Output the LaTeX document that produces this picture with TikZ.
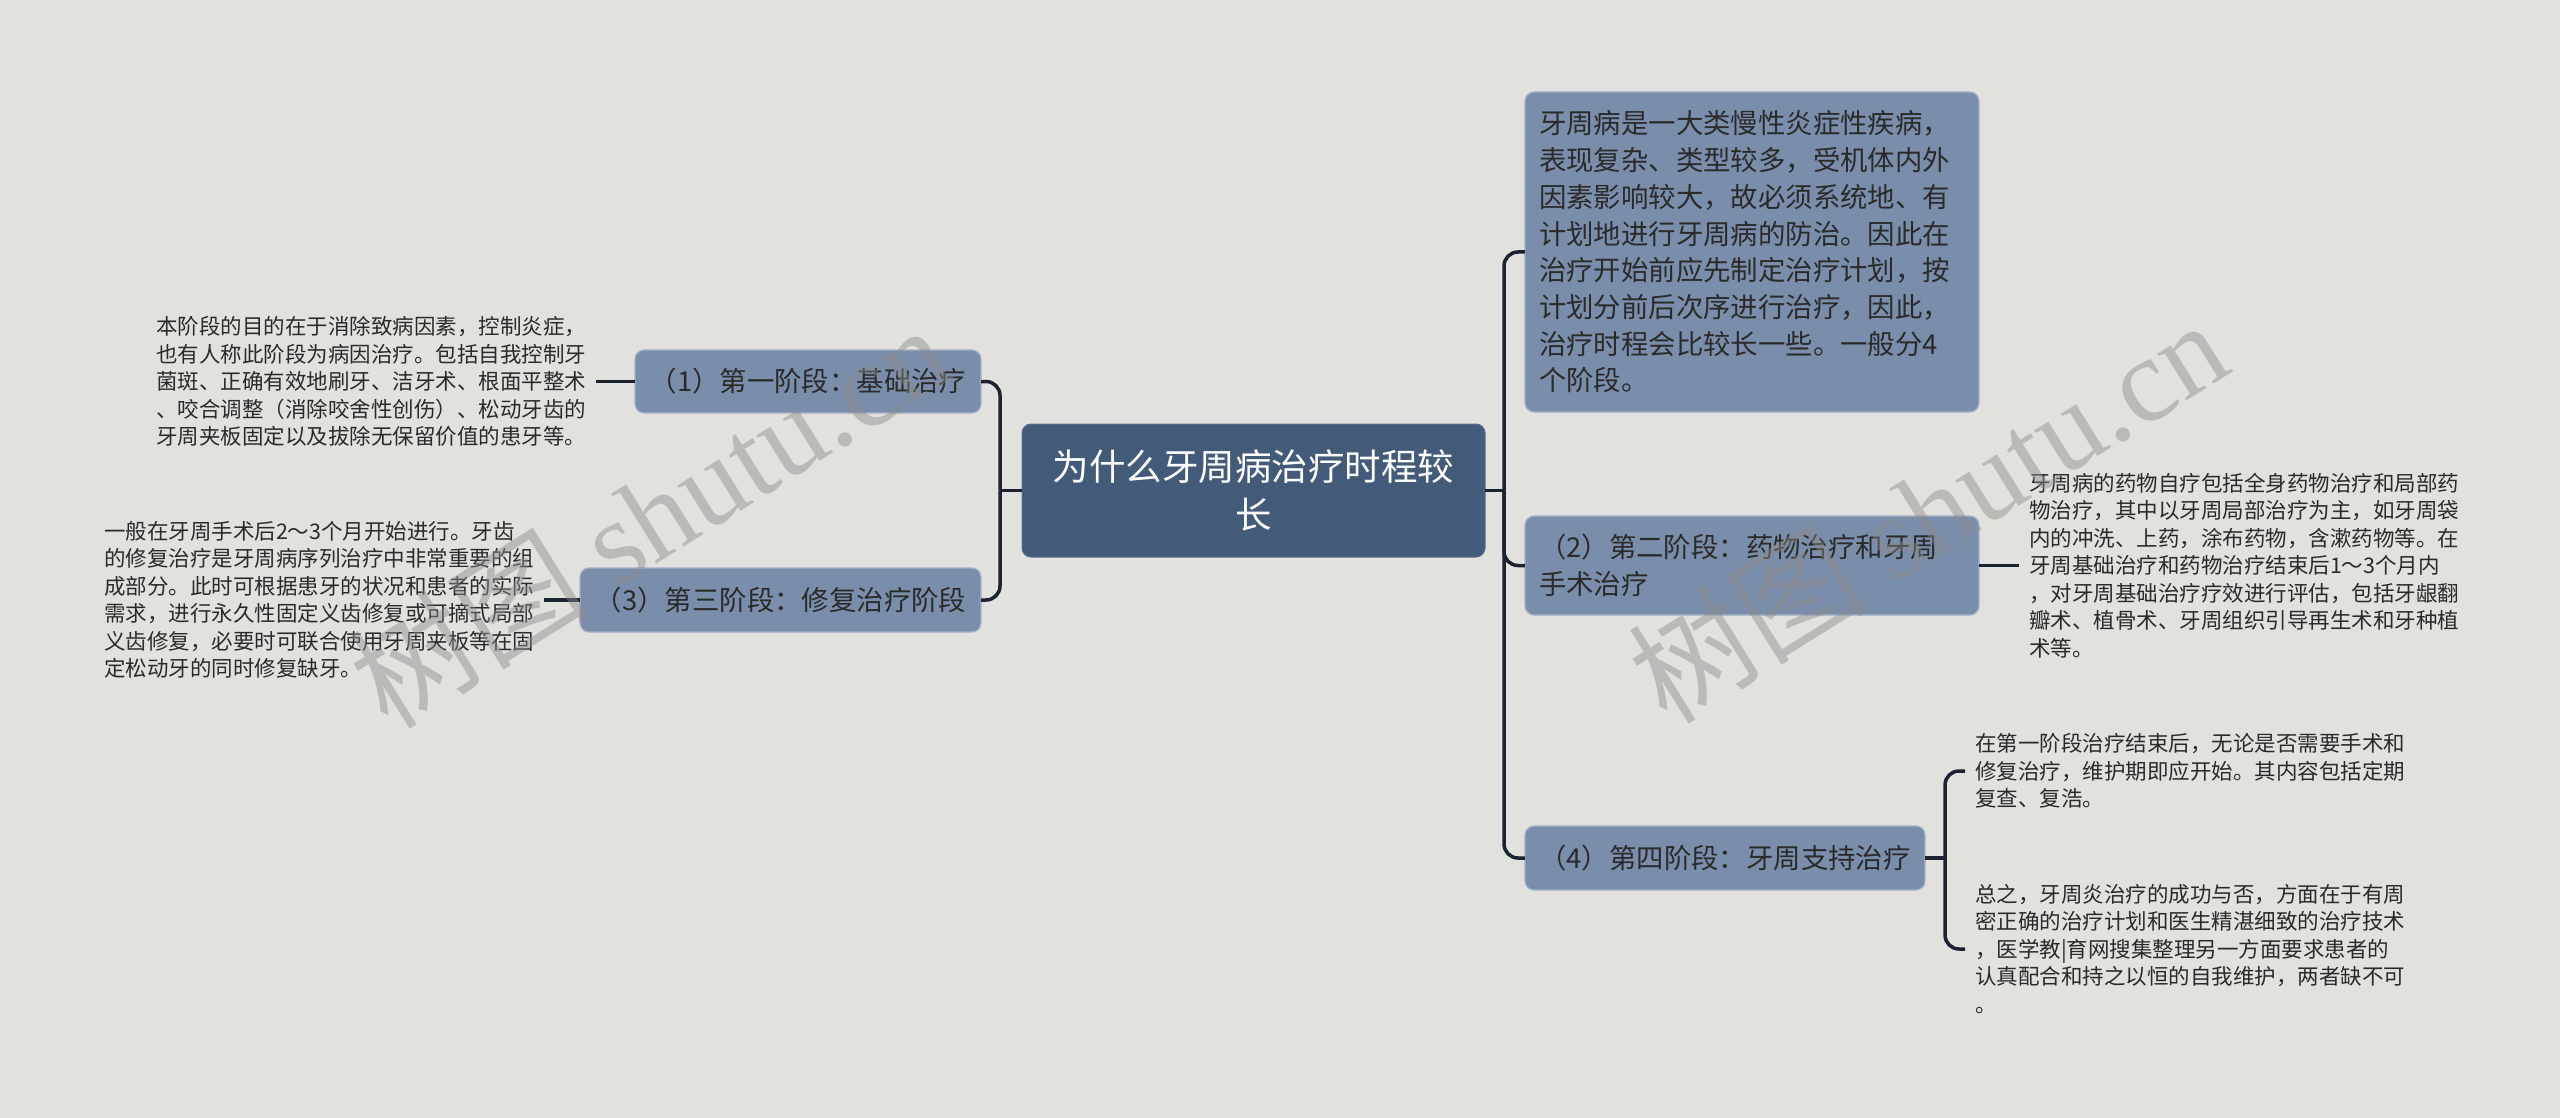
\documentclass[tikz,border=0pt]{standalone}
\usepackage{fontspec}
\setmainfont{Noto Sans CJK SC}
\newfontfamily\wmlatin{Liberation Serif}
\definecolor{bg}{HTML}{E1E2DE}
\definecolor{centralc}{HTML}{445A79}
\definecolor{centralb}{HTML}{5A6F8E}
\definecolor{lvl}{HTML}{7A8DAB}
\definecolor{lvlb}{HTML}{A3B2C7}
\definecolor{txt}{HTML}{2A2A2A}
\definecolor{conn}{HTML}{1B2230}
\begin{document}
\begin{tikzpicture}[x=1pt,y=-1pt,
  every node/.style={inner sep=0pt, outer sep=0pt},
  cbox/.style={fill=centralc, draw=centralb, line width=1pt, rounded corners=9pt, text=white, font=\fontsize{36.5}{48}\selectfont, align=center, minimum width=463pt, minimum height=133pt},
  lbox/.style={fill=lvl, draw=lvlb, line width=1.2pt, rounded corners=9pt, text=txt, font=\fontsize{27.4}{37}\selectfont, inner xsep=14pt},
  leaf/.style={text=txt, font=\fontsize{21.5}{27.5}\selectfont, align=left, inner xsep=10pt},
  link/.style={draw=conn, line width=3.5pt, rounded corners=14pt},
  wm/.style={text=black!45, text opacity=0.45, font=\fontsize{120}{120}\selectfont, rotate=32}
]
\fill[bg] (0,0) rectangle (2560,1118);
\useasboundingbox (0,0) rectangle (2560,1118);

% central
\node[cbox] (c) at (1253.5,490.5) {为什么牙周病治疗时程较\\长};

% level-1 boxes
\node[lbox, minimum width=346pt, minimum height=63pt] (b1) at (808,381.5) {（1）第一阶段：基础治疗};
\node[lbox, minimum width=401pt, minimum height=64pt] (b3) at (780.5,600) {（3）第三阶段：修复治疗阶段};
\node[lbox, text width=426pt, align=left, minimum height=320pt, font=\fontsize{27.4}{36.7}\selectfont] (r0) at (1752,252) {牙周病是一大类慢性炎症性疾病，\\表现复杂、类型较多，受机体内外\\因素影响较大，故必须系统地、有\\计划地进行牙周病的防治。因此在\\治疗开始前应先制定治疗计划，按\\计划分前后次序进行治疗，因此，\\治疗时程会比较长一些。一般分4\\个阶段。};
\node[lbox, text width=426pt, align=left, minimum height=99pt] (b2) at (1752,565.5) {（2）第二阶段：药物治疗和牙周\\手术治疗};
\node[lbox, minimum width=400pt, minimum height=64pt] (b4) at (1725,858) {（4）第四阶段：牙周支持治疗};

% leaves
\node[leaf, anchor=east] (l1) at (596,381.5) {本阶段的目的在于消除致病因素，控制炎症，\\也有人称此阶段为病因治疗。包括自我控制牙\\菌斑、正确有效地刷牙、洁牙术、根面平整术\\、咬合调整（消除咬舍性创伤）、松动牙齿的\\牙周夹板固定以及拔除无保留价值的患牙等。};
\node[leaf, anchor=east] (l3) at (544,600) {一般在牙周手术后2～3个月开始进行。牙齿\\的修复治疗是牙周病序列治疗中非常重要的组\\成部分。此时可根据患牙的状况和患者的实际\\需求，进行永久性固定义齿修复或可摘式局部\\义齿修复，必要时可联合使用牙周夹板等在固\\定松动牙的同时修复缺牙。};
\node[leaf, anchor=west] (l2) at (2019,565.5) {牙周病的药物自疗包括全身药物治疗和局部药\\物治疗，其中以牙周局部治疗为主，如牙周袋\\内的冲洗、上药，涂布药物，含漱药物等。在\\牙周基础治疗和药物治疗结束后1～3个月内\\，对牙周基础治疗疗效进行评估，包括牙龈翻\\瓣术、植骨术、牙周组织引导再生术和牙种植\\术等。};
\node[leaf, anchor=west] (l4a) at (1965,771) {在第一阶段治疗结束后，无论是否需要手术和\\修复治疗，维护期即应开始。其内容包括定期\\复查、复浩。};
\node[leaf, anchor=west] (l4b) at (1965,949) {总之，牙周炎治疗的成功与否，方面在于有周\\密正确的治疗计划和医生精湛细致的治疗技术\\，医学教|育网搜集整理另一方面要求患者的\\认真配合和持之以恒的自我维护，两者缺不可\\。};

% connectors
\coordinate (lj) at (1000,490.5);
\coordinate (rj) at (1504,490.5);
\coordinate (fj) at (1945,858);
\draw[link] (c.west) -- (lj);
\draw[link] (lj) |- (b1.east);
\draw[link] (lj) |- (b3.east);
\draw[link] (c.east) -- (rj);
\draw[link] (rj) |- (r0.west);
\draw[link] (rj) |- (b2.west);
\draw[link] (rj) |- (b4.west);
\draw[link] (l1.east) -- (b1.west);
\draw[link] (l3.east) -- (b3.west);
\draw[link] (b2.east) -- (l2.west);
\draw[link] (b4.east) -- (fj);
\draw[link] (fj) |- (l4a.west);
\draw[link] (fj) |- (l4b.west);

% watermarks
\node[wm] (w1) at (649,515) {树图 {\wmlatin shutu.cn}};
\node[wm] (w2) at (1927,510) {树图 {\wmlatin shutu.cn}};
\end{tikzpicture}
\end{document}
